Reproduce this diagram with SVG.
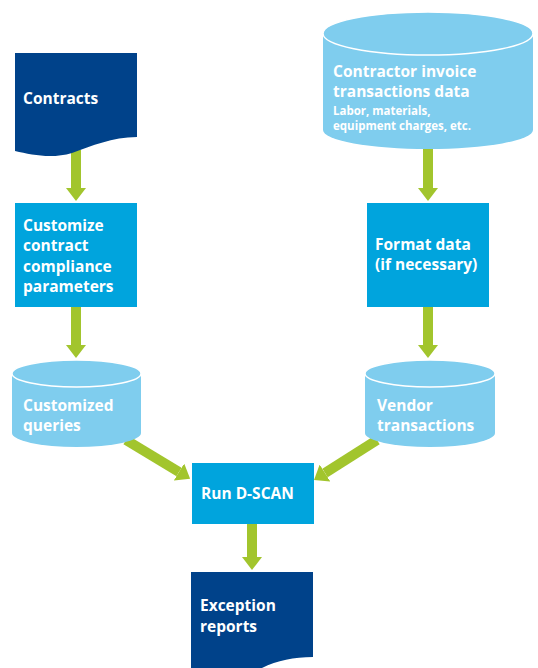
<svg xmlns="http://www.w3.org/2000/svg" width="538" height="668" viewBox="0 0 538 668">
<style>
.navy{fill:#00428a}
.box{fill:#00a4dd}
.cyl{fill:#7fcdee}
.top{fill:#7fcdee;stroke:#ffffff;stroke-width:1.5}
.t{font-family:"Open Sans","Noto Sans",sans-serif;font-weight:700;font-size:15.5px;fill:#ffffff}
.s{font-size:11.5px}
.arr{stroke:#a2c52d;stroke-width:10;fill:none;marker-end:url(#ah)}
</style>
<defs>
<marker id="ah" markerUnits="userSpaceOnUse" markerWidth="13" markerHeight="20" refX="0" refY="10" orient="auto" viewBox="0 0 13 20">
<path d="M0,0 L13,10 L0,20 Z" fill="#a2c52d"/>
</marker>
</defs>
<rect width="538" height="668" fill="#ffffff"/>
<g id="connectors">
<line class="arr" x1="76" y1="150" x2="76" y2="188"/>
<line class="arr" x1="428" y1="145" x2="428" y2="188"/>
<line class="arr" x1="76" y1="307" x2="76" y2="345"/>
<line class="arr" x1="428" y1="307" x2="428" y2="345"/>
<line class="arr" x1="126" y1="440" x2="179" y2="472"/>
<line class="arr" x1="377" y1="440" x2="325" y2="473"/>
<line class="arr" x1="252" y1="524" x2="252" y2="557"/>
</g>
<g id="contracts">
<path class="navy" d="M15,53 H137 V137 C112,137 92,146 72,153 C52,159 32,155 15,151 Z"/>
<text class="t" x="23" y="104">Contracts</text>
</g>
<g id="contractor-data">
<path class="cyl" d="M323,33 V130 A105,19 0 0 0 533,130 V33 Z"/>
<ellipse class="top" cx="428" cy="33.5" rx="105" ry="21.5"/>
<text class="t" x="333" y="77">Contractor invoice</text>
<text class="t" x="333" y="97">transactions data</text>
<text class="t s" x="333" y="115">Labor, materials,</text>
<text class="t s" x="333" y="130">equipment charges, etc.</text>
</g>
<g id="customize">
<rect class="box" x="15" y="203" width="122" height="104"/>
<text class="t" x="23" y="231">Customize</text>
<text class="t" x="23" y="251">contract</text>
<text class="t" x="23" y="272">compliance</text>
<text class="t" x="23" y="292">parameters</text>
</g>
<g id="format-data">
<rect class="box" x="367" y="203" width="122" height="104"/>
<text class="t" x="375" y="250">Format data</text>
<text class="t" x="375" y="270">(if necessary)</text>
</g>
<g id="customized-queries">
<path class="cyl" d="M12,373.5 V433 A64.5,14 0 0 0 141,433 V373.5 Z"/>
<ellipse class="top" cx="76.5" cy="373.5" rx="64.5" ry="13.5"/>
<text class="t" x="23" y="411">Customized</text>
<text class="t" x="23" y="431">queries</text>
</g>
<g id="vendor-transactions">
<path class="cyl" d="M365,373.5 V433 A65,14 0 0 0 495,433 V373.5 Z"/>
<ellipse class="top" cx="430" cy="373.5" rx="65" ry="13.5"/>
<text class="t" x="377" y="411">Vendor</text>
<text class="t" x="377" y="431">transactions</text>
</g>
<g id="run-dscan">
<rect class="box" x="192" y="463" width="122" height="61"/>
<text class="t" x="201" y="499">Run D-SCAN</text>
</g>
<g id="exception-reports">
<path class="navy" d="M191,572 H313 V657 C292,657 275,661 258,670 L191,670 Z"/>
<text class="t" x="200" y="611">Exception</text>
<text class="t" x="200" y="632">reports</text>
</g>
</svg>
